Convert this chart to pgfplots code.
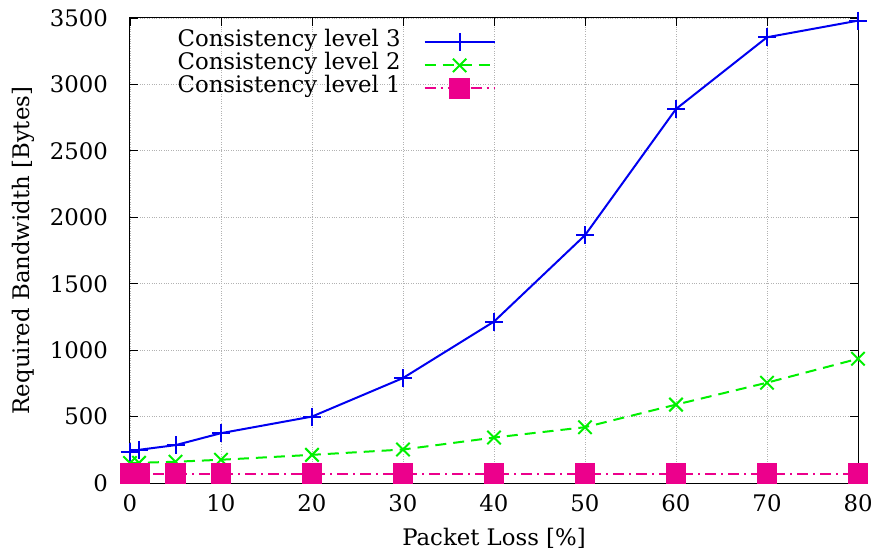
\documentclass[border=0pt]{standalone}
\usepackage{pgfplots}
\pgfplotsset{compat=1.18}
\usepackage{fontspec}
\setmainfont{DejaVu Serif}
\definecolor{lblue}{RGB}{0,0,240}
\definecolor{lgreen}{RGB}{0,240,0}
\definecolor{lpink}{RGB}{236,0,140}
\newcommand{\bigf}{\fontsize{22.8}{26}\selectfont}
\begin{document}
\begin{tikzpicture}
\begin{axis}[
  scale only axis,
  width=728pt, height=465pt,
  xmin=0, xmax=80, ymin=0, ymax=3500,
  xtick={0,10,...,80},
  ytick={0,500,...,3500},
  /pgf/number format/assume math mode=true,
  /pgf/number format/1000 sep={},
  tick label style={font=\bigf, inner sep=0pt},
  xticklabel style={anchor=north, yshift=-11pt},
  yticklabel style={anchor=east, xshift=-22pt},
  major tick length=8pt,
  tick style={black, line width=0.8pt},
  axis line style={black, line width=1pt},
  grid=major,
  major grid style={gray!60, dotted, line width=0.9pt},
  xlabel={Packet Loss [\%]},
  ylabel={Required Bandwidth [Bytes]},
  every axis x label/.style={at={(axis description cs:0.5,0)}, anchor=north, yshift=-45pt, inner sep=0pt, font=\bigf},
  every axis y label/.style={at={(axis description cs:-0.1305,0.5)}, rotate=90, anchor=south, inner sep=0pt, font=\bigf},
  clip=false,
  legend plot pos=right,
  legend cell align=right,
  legend style={draw=none, fill=none, at={(axis cs:40.2,3405)}, anchor=north east, inner sep=0pt, row sep=0pt, column sep=22pt, font=\bigf,
    nodes={inner sep=1pt, text height=15pt, text depth=6pt}},
  legend image code/.code={\draw[mark repeat=2, mark phase=2] plot coordinates {(0pt,0pt) (35pt,0pt) (70pt,0pt)};},
]
\addplot[lblue, line width=2pt, mark=+, mark size=9pt, mark options={solid, line width=2pt}] coordinates {
(0,232) (1,250) (5,285) (10,375) (20,500) (30,790) (40,1215) (50,1865) (60,2815) (70,3355) (80,3480)
};
\addlegendentry{Consistency level 3}
\addplot[lgreen, line width=2pt, dash pattern=on 11pt off 7pt, mark=x, mark size=9.5pt, mark options={solid, line width=2pt}] coordinates {
(0,150) (1,152) (5,160) (10,175) (20,212) (30,252) (40,342) (50,420) (60,590) (70,755) (80,935)
};
\addlegendentry{Consistency level 2}
\addplot[lpink, line width=1.8pt, dash pattern=on 11pt off 5pt on 2pt off 5pt, mark=square*, mark size=9.5pt, mark options={solid}] coordinates {
(0,70) (1,70) (5,70) (10,70) (20,70) (30,70) (40,70) (50,70) (60,70) (70,70) (80,70)
};
\addlegendentry{Consistency level 1}
\coordinate (ll) at (rel axis cs:0,0);
\coordinate (ur) at (rel axis cs:1,1);
\end{axis}
\pgfresetboundingbox
\path ([shift={(-130pt,-68pt)}]ll) rectangle ([shift={(15pt,18pt)}]ur);
\end{tikzpicture}
\end{document}
